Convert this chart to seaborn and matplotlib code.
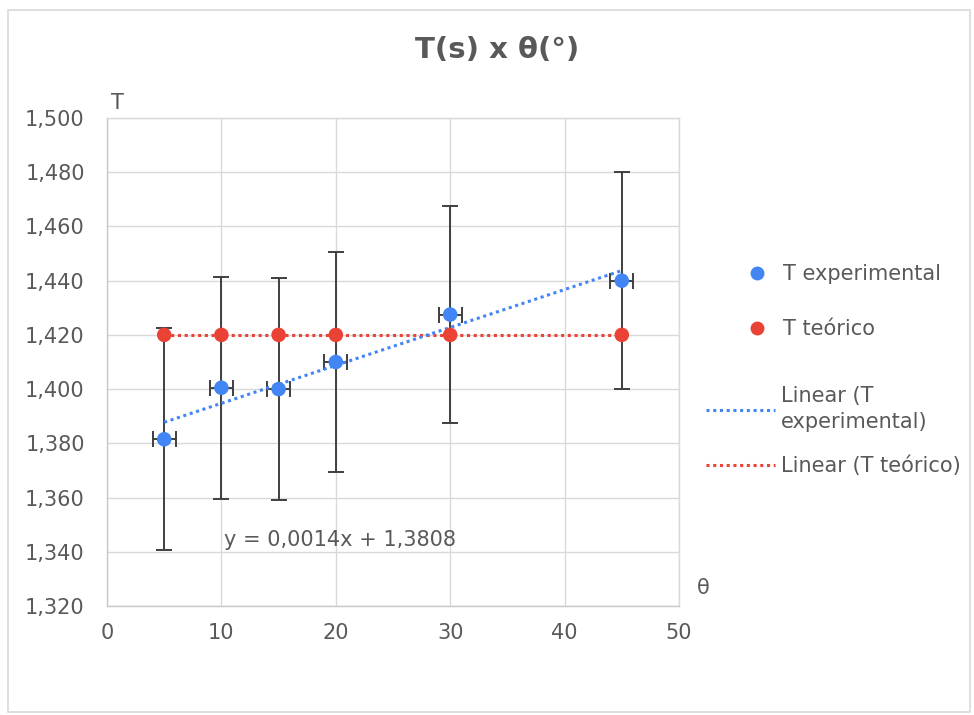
import numpy as np
import pandas as pd
import seaborn as sns
import matplotlib
matplotlib.use("Agg")
import matplotlib.pyplot as plt
from matplotlib.lines import Line2D
from matplotlib.patches import Rectangle
from matplotlib.ticker import FuncFormatter

# ---- data ----
theta = [5, 10, 15, 20, 30, 45]
t_exp = [1.3815, 1.4005, 1.400, 1.410, 1.4275, 1.440]
t_exp_yerr = [0.041, 0.041, 0.041, 0.0405, 0.040, 0.040]
t_exp_xerr = [1, 1, 1, 1, 1, 1]
t_teo = [1.420, 1.420, 1.420, 1.420, 1.420, 1.420]
x_ticks = [0, 10, 20, 30, 40, 50]
y_ticks = [1.320, 1.340, 1.360, 1.380, 1.400, 1.420, 1.440, 1.460, 1.480, 1.500]
title = "T(s) x θ(°)"
legend_labels = ["T experimental", "T teórico", "Linear (T\nexperimental)", "Linear (T teórico)"]

BLUE = "#4285f4"
RED = "#ea4335"
TXT = "#595959"
GRID = "#d9d9d9"
FS = 15

sns.set_theme(style="white")
plt.rcParams["font.family"] = ["DejaVu Sans"]

df = pd.DataFrame({"theta": theta, "exp": t_exp, "teo": t_teo})

fig = plt.figure(figsize=(9.74, 7.15), dpi=100)
ax = fig.add_axes([107 / 974, 1 - 606 / 715, 572 / 974, 488 / 715])

# linear fits
p_exp = np.polyfit(df["theta"], df["exp"], 1)
p_teo = np.polyfit(df["theta"], df["teo"], 1)
xs = np.array([min(theta), max(theta)])
fit_df = pd.DataFrame({"theta": xs,
                       "fit_exp": np.polyval(p_exp, xs),
                       "fit_teo": np.polyval(p_teo, xs)})

# error bars (experimental)
ax.errorbar(df["theta"], df["exp"], yerr=t_exp_yerr, xerr=t_exp_xerr, fmt="none",
            ecolor="#3f3f3f", elinewidth=1.4, capsize=6, capthick=1.4, zorder=2)

sns.lineplot(data=fit_df, x="theta", y="fit_teo", ax=ax, color=RED, lw=2.2,
             linestyle=(0, (1, 1.2)), zorder=3)
sns.lineplot(data=fit_df, x="theta", y="fit_exp", ax=ax, color=BLUE, lw=2.2,
             linestyle=(0, (1, 1.2)), zorder=3)

sns.scatterplot(data=df, x="theta", y="teo", ax=ax, color=RED, s=110,
                edgecolor="none", zorder=4)
sns.scatterplot(data=df, x="theta", y="exp", ax=ax, color=BLUE, s=110,
                edgecolor="none", zorder=5)

ax.set_xlim(x_ticks[0], x_ticks[-1])
ax.set_ylim(y_ticks[0], y_ticks[-1])
ax.set_xticks(x_ticks)
ax.set_yticks(y_ticks)
ax.yaxis.set_major_formatter(FuncFormatter(lambda v, p: f"{v:.3f}".replace(".", ",")))
ax.grid(True, color=GRID, lw=1)
ax.set_axisbelow(True)
for s in ax.spines.values():
    s.set_color(GRID)
    s.set_linewidth(1)
ax.spines["left"].set_color("#c8c8c8")
ax.spines["bottom"].set_color("#c8c8c8")
ax.tick_params(axis="both", length=0, labelsize=FS, labelcolor=TXT)
ax.tick_params(axis="y", pad=16)
ax.tick_params(axis="x", pad=12)

ax.set_ylabel("T", rotation=0, fontsize=FS, color=TXT, ha="center", va="center")
ax.yaxis.set_label_coords(0.019, 1.031)
ax.set_xlabel("θ", fontsize=FS, color=TXT, ha="center", va="center")
ax.xaxis.set_label_coords(1.042, 0.037)

fig.suptitle(title, x=497 / 974, y=1 - 50 / 715, va="center", ha="center",
             fontsize=21, fontweight="bold", color=TXT)

eq = f"y = {p_exp[0]:.4f}x + {p_exp[1]:.4f}".replace(".", ",")
ax.text(10.2, 1.3445, eq, fontsize=FS, color=TXT, ha="left", va="center")

# legends
h1 = [Line2D([], [], marker="o", ls="none", color=BLUE, markersize=9),
      Line2D([], [], marker="o", ls="none", color=RED, markersize=9)]
h2 = [Line2D([], [], color=BLUE, lw=2.2, ls=(0, (1, 1.2))),
      Line2D([], [], color=RED, lw=2.2, ls=(0, (1, 1.2)))]
leg1 = fig.legend(h1, legend_labels[:2], loc="upper left",
                  bbox_to_anchor=(747 / 974, 1 - 264 / 715), frameon=False,
                  fontsize=FS, labelcolor=TXT, handlelength=1.0, handletextpad=0.75,
                  labelspacing=1.7, borderpad=0, borderaxespad=0)
leg2 = fig.legend(h2, legend_labels[2:], loc="upper left",
                  bbox_to_anchor=(706 / 974, 1 - 386 / 715), frameon=False,
                  fontsize=FS, labelcolor=TXT, handlelength=3.3, handletextpad=0.3,
                  labelspacing=1.15, borderpad=0, borderaxespad=0)
for t in leg2.get_texts():
    t.set_linespacing(1.35)

# outer chart border
fig.patches.append(Rectangle((8 / 974, 3 / 715), 962 / 974, 702 / 715,
                             transform=fig.transFigure, fill=False,
                             edgecolor="#d9d9d9", lw=1.2))

fig.savefig("out.png", dpi=100)
